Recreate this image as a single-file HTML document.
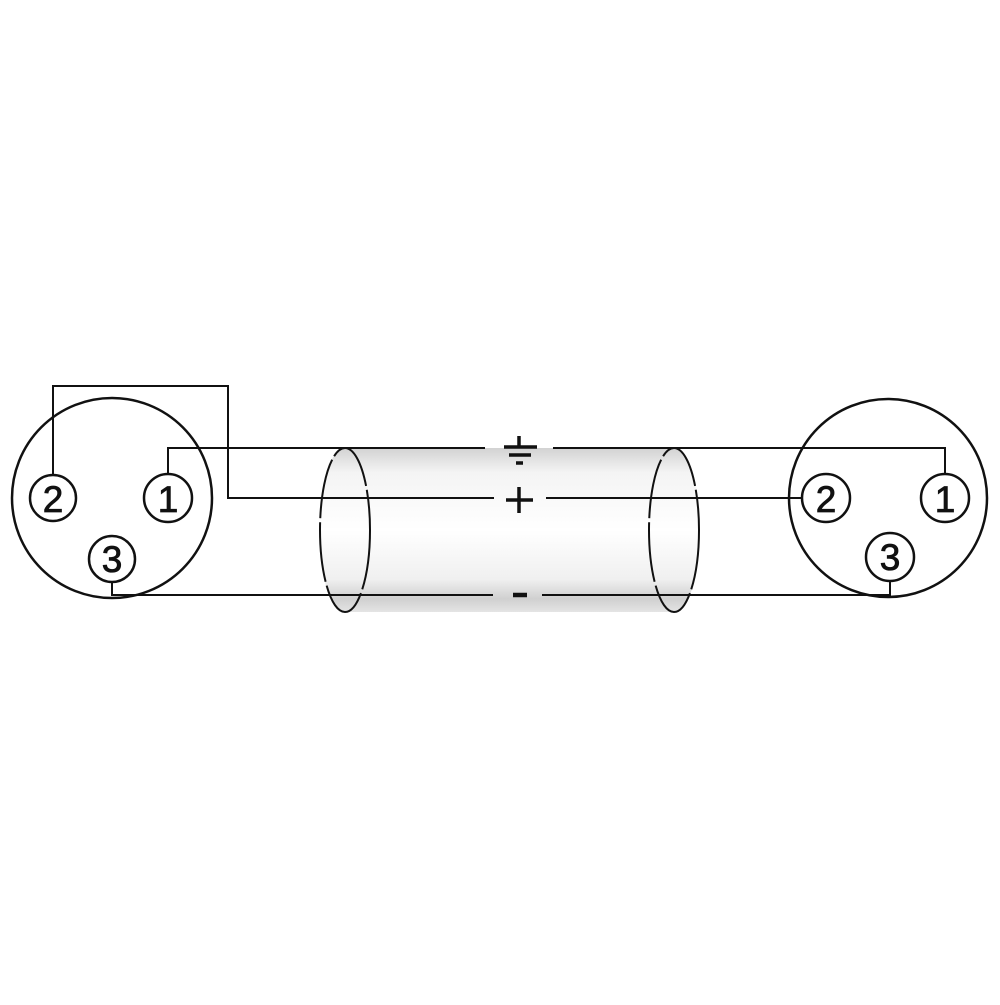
<!DOCTYPE html>
<html><head><style>html,body{margin:0;padding:0;background:#fff}</style></head>
<body>
<svg width="1000" height="1000" viewBox="0 0 1000 1000" xmlns="http://www.w3.org/2000/svg">
<defs>
<linearGradient id="g" x1="0" y1="0" x2="0" y2="1">
<stop offset="0" stop-color="#d2d2d2"/>
<stop offset="0.15" stop-color="#f4f4f4"/>
<stop offset="0.5" stop-color="#ffffff"/>
<stop offset="0.8" stop-color="#f0f0f0"/>
<stop offset="0.92" stop-color="#d0d0d0"/>
<stop offset="1" stop-color="#e4e4e4"/>
</linearGradient>
</defs>
<rect width="1000" height="1000" fill="#fff"/>
<path d="M345,448 L674,448 A26,82 0 0 1 674,612 L345,612 A26,82 0 0 1 345,448 Z" fill="url(#g)"/>
<g fill="none" stroke="#111" stroke-width="2">
<ellipse cx="345" cy="530" rx="25" ry="82" stroke-dasharray="60 4"/>
<ellipse cx="674" cy="530" rx="25" ry="82" stroke-dasharray="60 4"/>
<circle cx="112" cy="498" r="100" stroke-width="2.5"/>
<circle cx="888" cy="498" r="99" stroke-width="2.5"/>
<g stroke-width="2.5">
<circle cx="53" cy="498" r="23"/>
<circle cx="168" cy="498" r="24"/>
<circle cx="112" cy="559" r="23"/>
<circle cx="826" cy="498" r="24"/>
<circle cx="945" cy="498" r="24"/>
<circle cx="890" cy="557" r="24"/>
</g>
<polyline points="53,475 53,386 228,386 228,498 494,498"/>
<line x1="546" y1="498" x2="802" y2="498"/>
<polyline points="168,474 168,448 485,448"/>
<polyline points="553,448 945,448 945,474"/>
<polyline points="112,582 112,595 493,595"/>
<polyline points="542,595 890,595 890,581"/>
</g>
<g stroke="#111" stroke-width="3.5" fill="none">
<line x1="519" y1="436" x2="519" y2="447"/>
<line x1="504" y1="447" x2="537" y2="447"/>
<line x1="509" y1="455" x2="531" y2="455"/>
<line x1="516" y1="463" x2="523" y2="463"/>
<line x1="506" y1="500" x2="533" y2="500"/>
<line x1="519" y1="487" x2="519" y2="513"/>
<line x1="513" y1="595" x2="527" y2="595" stroke-width="4.5"/>
</g>
<g font-family="Liberation Sans, sans-serif" font-size="37" text-anchor="middle" fill="#111" stroke="#111" stroke-width="0.8">
<text x="53" y="512">2</text>
<text x="168" y="512">1</text>
<text x="112" y="572">3</text>
<text x="826" y="512">2</text>
<text x="945" y="512">1</text>
<text x="890" y="570">3</text>
</g>
</svg>
</body></html>
